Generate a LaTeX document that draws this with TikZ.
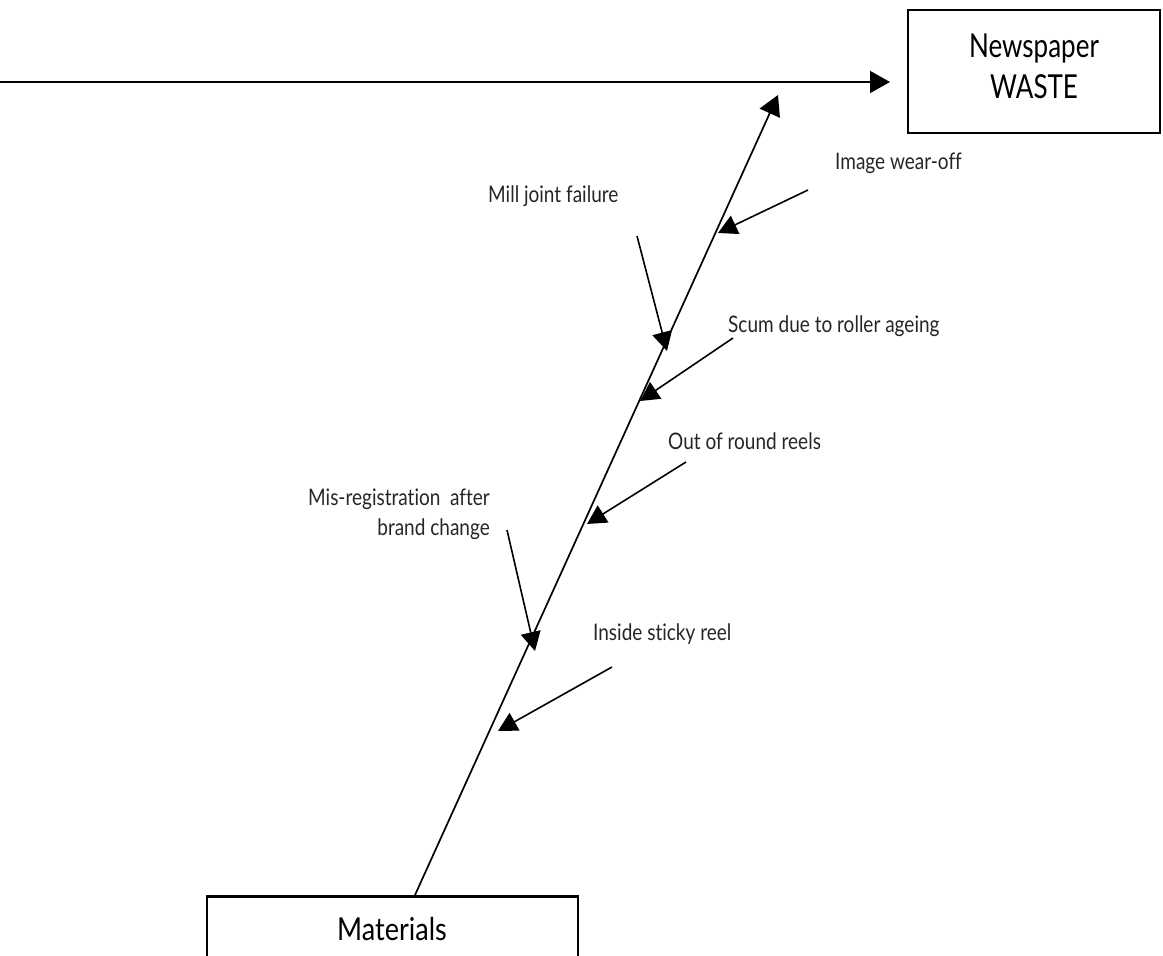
\documentclass[tikz,border=0pt]{standalone}
\usepackage{fontspec}
\usepackage{graphicx}
\setmainfont{Lato}[Ligatures={NoCommon}]
\usetikzlibrary{arrows.meta}
\newcommand{\tall}[2][1.2]{\scalebox{1}[#1]{#2}}
\begin{document}
\begin{tikzpicture}[x=1pt,y=-1pt,
  box/.style={draw,line width=2.8pt,inner sep=0pt},
  lbl/.style={font=\fontsize{19}{22}\selectfont,inner sep=0pt,text=black!85,anchor=base west},
  arr/.style={line width=1.7pt,-{Triangle[length=20pt,width=22pt]}},
  branch/.style={line width=1.6pt,-{Triangle[length=19pt,width=20pt]}}]
\useasboundingbox (0,0) rectangle (1163,956);
% boxes
\node[box,minimum width=252pt,minimum height=123pt] (np) at (1034,71.5) {};
\node[font=\fontsize{26}{30}\selectfont,inner sep=0pt,anchor=base] (np1) at (1034,57) {\tall[1.27]{Newspaper}};
\node[font=\fontsize{26}{30}\selectfont,inner sep=0pt,anchor=base] (np2) at (1034,98) {\tall[1.27]{WASTE}};
\node[box,minimum width=371pt,minimum height=62pt,anchor=north] (mat) at (392.5,895) {};
\node[font=\fontsize{27}{32}\selectfont,inner sep=0pt,anchor=base] (mattxt) at (392,940) {\tall[1.17]{Materials}};
% main horizontal arrow
\coordinate (hstart) at (0,82);
\coordinate (htip) at (890,82);
\draw[arr] (hstart) -- (htip);
% spine
\coordinate (sbot) at (415,895);
\coordinate (stop) at (778,95);
\draw[arr] (sbot) -- (stop);
% branches
\coordinate (b1s) at (808,190); \coordinate (b1t) at (718,233);
\coordinate (b2s) at (637,236); \coordinate (b2t) at (667,351);
\coordinate (b3s) at (733,338); \coordinate (b3t) at (640,401);
\coordinate (b4s) at (686,462); \coordinate (b4t) at (587,524);
\coordinate (b5s) at (507,530); \coordinate (b5t) at (535,651);
\coordinate (b6s) at (612,667); \coordinate (b6t) at (498,731);
\draw[branch] (b1s) -- (b1t);
\draw[branch] (b2s) -- (b2t);
\draw[branch] (b3s) -- (b3t);
\draw[branch] (b4s) -- (b4t);
\draw[branch] (b5s) -- (b5t);
\draw[branch] (b6s) -- (b6t);
% labels
\node[lbl] (l1) at (835,169) {\tall{Image wear-off}};
\node[lbl] (l2) at (488,202) {\tall{Mill joint failure}};
\node[lbl] (l3) at (728,332) {\tall{Scum due to roller ageing}};
\node[lbl] (l4) at (668,449) {\tall{Out of round reels}};
\node[lbl,anchor=base east] (l5a) at (490,505) {\tall{Mis-registration~ after}};
\node[lbl,anchor=base east] (l5b) at (490,535) {\tall{brand change}};
\node[lbl] (l6) at (593,640) {\tall{Inside sticky reel}};
\end{tikzpicture}
\end{document}
